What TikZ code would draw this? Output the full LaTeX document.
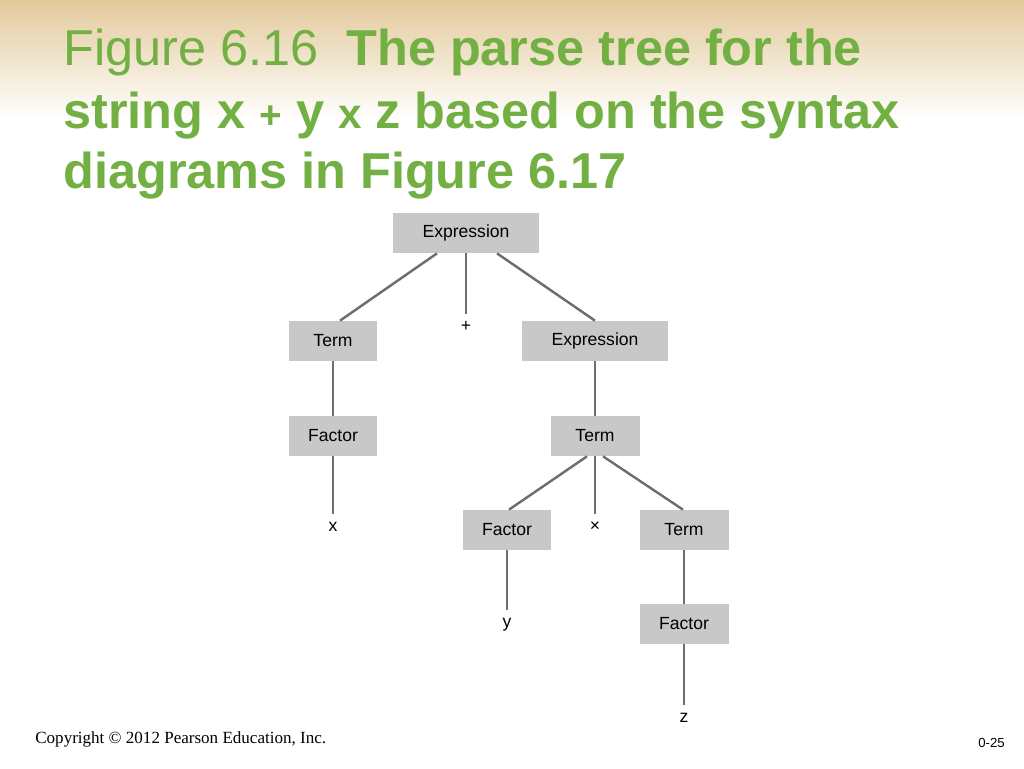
\documentclass[tikz,border=0pt]{standalone}
\usepackage{fontspec}
\setmainfont{Liberation Sans}
\newfontfamily\copyfont{Liberation Serif}
\usetikzlibrary{positioning}
\definecolor{titlegreen}{RGB}{114,176,67}
\definecolor{boxgray}{RGB}{200,200,200}
\definecolor{edgegray}{RGB}{110,110,110}
\definecolor{topband}{RGB}{227,202,156}
\tikzset{
    treebox/.style={rectangle,fill=boxgray,minimum width=1.78cm,minimum height=0.8cm,inner sep=0pt,font=\fontsize{10}{12}\selectfont},
    widebox/.style={treebox,minimum width=2.94cm},
    leaf/.style={anchor=north,inner sep=1.5pt,text height=1.6ex,text depth=0pt,font=\fontsize{10}{12}\selectfont},
    branch/.style={draw=edgegray,line width=1.4pt},
    titletext/.style={anchor=base west,inner sep=0pt,text=titlegreen,font=\fontsize{28.7}{32}\selectfont}
}
\begin{document}
\begin{tikzpicture}[x=0.02cm,y=-0.02cm]
    \useasboundingbox (0,0) rectangle (1024,768);
    \shade[top color=topband,bottom color=white] (0,0) rectangle (1024,120);
    % title
    \node[titletext] (t1) at (63,65) {Figure 6.16\ \ \textbf{The parse tree for the}};
    \node[titletext] (t2) at (63,128) {\textbf{string x\ {\fontsize{22}{24}\selectfont +}\ y\ {\fontsize{24}{24}\selectfont x}\ z based on the syntax}};
    \node[titletext] (t3) at (63,188) {\textbf{diagrams in Figure 6.17}};
    % parse tree
    \node[widebox] (expr) at (466,233) {Expression};
    \node[treebox] (term) at (333,341) {Term};
    \node[leaf] (plus) at (466,314) {+};
    \node[widebox] (exprr) at (595,341) {Expression};
    \node[treebox] (fact) at (333,436) {Factor};
    \node[leaf] (x) at (333,514) {x};
    \node[treebox] (termr) at (595,436) {Term};
    \node[treebox] (factr) at (507,530) {Factor};
    \node[leaf] (times) at (595,514) {×};
    \node[treebox] (termrr) at (684,530) {Term};
    \node[leaf] (y) at (507,610) {y};
    \node[treebox] (factrr) at (684,624) {Factor};
    \node[leaf] (z) at (684,705) {z};
    \draw[branch] ([xshift=-0.58cm]expr.south) -- ([xshift=0.14cm]term.north);
    \draw[branch] (expr.south) -- (plus.north);
    \draw[branch] ([xshift=0.62cm]expr.south) -- (exprr.north);
    \draw[branch] (term) -- (fact);
    \draw[branch] (fact.south) -- (x.north);
    \draw[branch] (exprr) -- (termr);
    \draw[branch] ([xshift=-0.16cm]termr.south) -- ([xshift=0.04cm]factr.north);
    \draw[branch] (termr.south) -- (times.north);
    \draw[branch] ([xshift=0.16cm]termr.south) -- ([xshift=-0.02cm]termrr.north);
    \draw[branch] (factr.south) -- (y.north);
    \draw[branch] (termrr) -- (factrr);
    \draw[branch] (factrr.south) -- (z.north);
    % footer
    \node[anchor=base west,inner sep=0pt,font=\copyfont\fontsize{9.7}{12}\selectfont] (copy) at (35,743) {Copyright © 2012 Pearson Education, Inc.};
    \node[anchor=base east,inner sep=0pt,font=\fontsize{7.5}{9}\selectfont] (page) at (1005,747) {0-25};
\end{tikzpicture}
\end{document}
